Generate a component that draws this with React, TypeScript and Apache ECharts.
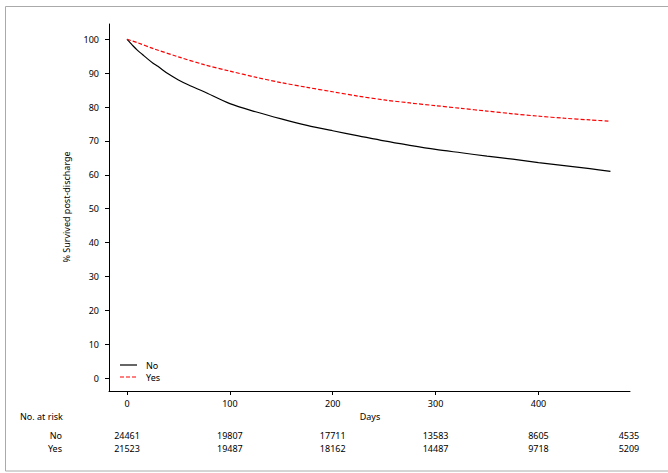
import React, { useEffect, useRef } from "react";
import * as echarts from "echarts";

const daysNo = [0, 3, 6, 10, 15, 20, 25, 30, 40, 50, 60, 75, 100, 125, 150, 175, 200, 225, 250, 275, 300, 325, 350, 375, 400, 425, 450, 470];
const survNo = [100, 99, 98, 96.8, 95.5, 94.2, 93, 92, 89.8, 88, 86.5, 84.5, 81, 78.6, 76.5, 74.6, 73, 71.5, 70, 68.7, 67.5, 66.5, 65.5, 64.6, 63.6, 62.7, 61.8, 61];
const daysYes = [0, 10, 25, 50, 75, 100, 125, 150, 175, 200, 225, 250, 275, 300, 325, 350, 375, 400, 425, 450, 470];
const survYes = [100, 99, 97.3, 94.8, 92.5, 90.6, 88.8, 87.2, 85.8, 84.5, 83.2, 82.1, 81.2, 80.4, 79.6, 78.8, 78, 77.3, 76.7, 76.2, 75.8];
const xTicks = [0, 100, 200, 300, 400];
const yTicks = [0, 10, 20, 30, 40, 50, 60, 70, 80, 90, 100];
const riskDays = [0, 100, 200, 300, 400, 488];
const riskNo = [24461, 19807, 17711, 13583, 8605, 4535];
const riskYes = [21523, 19487, 18162, 14487, 9718, 5209];
const groups = ["No", "Yes"];

const FONT = "Noto Sans";

export default function App() {
  const ref = useRef<HTMLDivElement>(null);
  useEffect(() => {
    document.body.style.margin = "0";
    const chart = echarts.init(ref.current!, null, { renderer: "svg" });
    const axisCommon = {
      axisLine: { show: true, onZero: false, lineStyle: { color: "#000", width: 1 } },
      splitLine: { show: false },
      axisTick: { show: true, length: 4, lineStyle: { color: "#000" } },
      axisLabel: { color: "#000", fontSize: 9, fontFamily: FONT },
    };
    chart.setOption({
      animation: false,
      grid: { left: 109, top: 24, width: 521, height: 367 },
      xAxis: {
        type: "value",
        min: -17.5,
        max: 489,
        ...axisCommon,
        axisTick: { ...axisCommon.axisTick, customValues: xTicks },
        axisLabel: { ...axisCommon.axisLabel, customValues: xTicks, margin: 8 },
      },
      yAxis: {
        type: "value",
        min: -3.8,
        max: 104.5,
        ...axisCommon,
        axisTick: { ...axisCommon.axisTick, customValues: yTicks },
        axisLabel: { ...axisCommon.axisLabel, customValues: yTicks, margin: 10 },
      },
      series: [
        {
          name: "No",
          type: "line",
          symbol: "none",
          smooth: 0.3,
          lineStyle: { color: "#000", width: 1.2 },
          data: daysNo.map((d, i) => [d, survNo[i]]),
        },
        {
          name: "Yes",
          type: "line",
          symbol: "none",
          smooth: 0.3,
          lineStyle: { color: "#ff0000", width: 1.2, type: [4, 2] },
          data: daysYes.map((d, i) => [d, survYes[i]]),
        },
      ],
    });
    const txt = (x: number, y: number, s: string, align = "center", extra: any = {}) => ({
      type: "text",
      x,
      y,
      style: { text: s, fontSize: 9, fontFamily: FONT, fill: "#000", align, verticalAlign: "middle" },
      ...extra,
    });
    const els: any[] = [
      { type: "rect", shape: { x: 5.5, y: 6.5, width: 700, height: 464.5 }, style: { fill: "none", stroke: "#aaa", lineWidth: 1 } },
      txt(20, 416, "No. at risk", "left"),
      txt(370, 416, "Days"),
      txt(62, 435, "No", "right"),
      txt(62, 448, "Yes", "right"),
      txt(66, 207, "% Survived post-discharge", "center", { rotation: Math.PI / 2 }),
      { type: "line", shape: { x1: 120, y1: 365, x2: 137, y2: 365 }, style: { stroke: "#000", lineWidth: 1.2 } },
      { type: "line", shape: { x1: 120, y1: 377, x2: 137, y2: 377 }, style: { stroke: "#ff0000", lineWidth: 1.2, lineDash: [4, 2] } },
      txt(146, 365, groups[0], "left"),
      txt(146, 377, groups[1], "left"),
    ];
    riskDays.forEach((d, i) => {
      const px = chart.convertToPixel({ gridIndex: 0 }, [d, 0]) as number[];
      els.push(txt(px[0], 435, String(riskNo[i])));
      els.push(txt(px[0], 448, String(riskYes[i])));
    });
    chart.setOption({ graphic: els });
    return () => chart.dispose();
  }, []);
  return <div ref={ref} style={{ width: 668, height: 473 }} />;
}
